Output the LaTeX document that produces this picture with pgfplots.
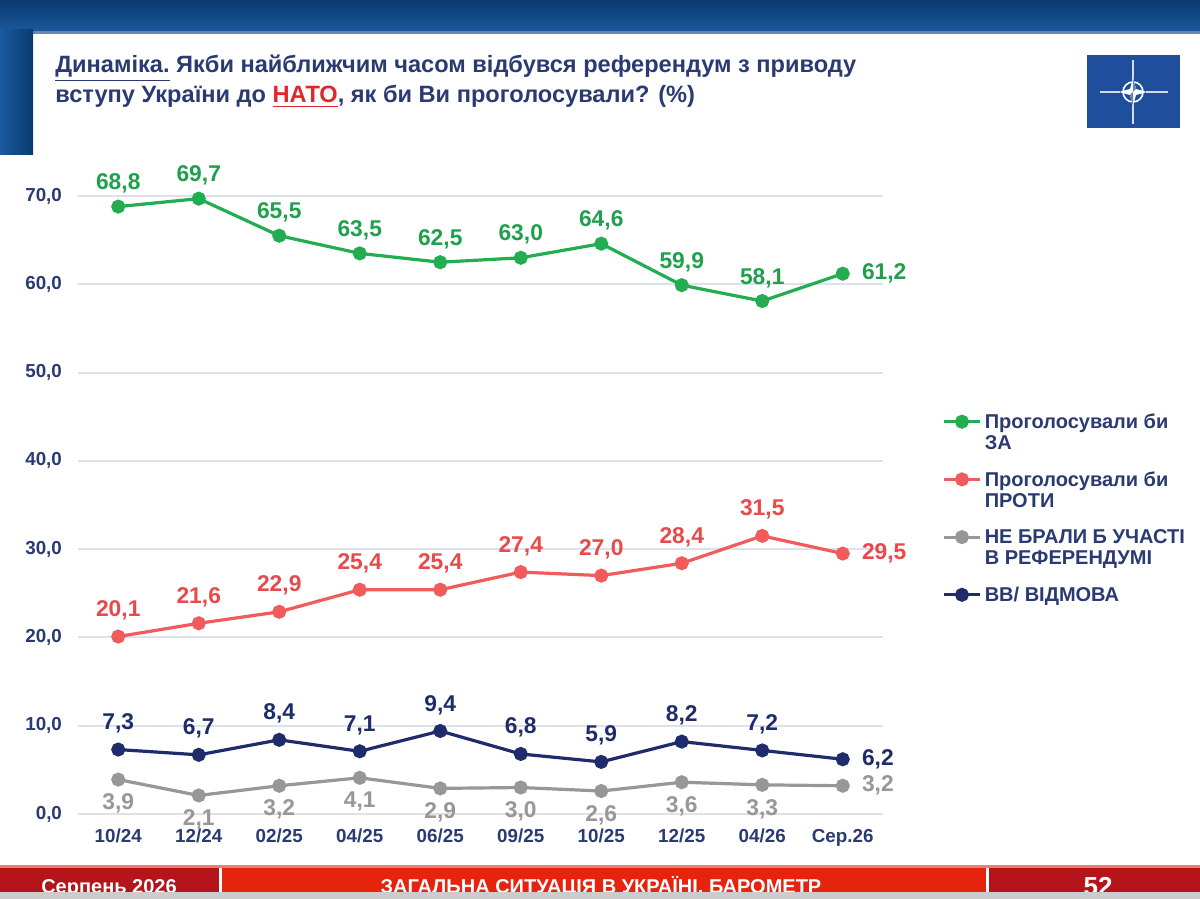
\documentclass[border=0pt]{standalone}
\usepackage{fontspec}
\setmainfont{Liberation Sans}
\usepackage{pgfplots}
\pgfplotsset{compat=1.18}
\definecolor{zagreen}{HTML}{22AE50}
\definecolor{zagreenT}{HTML}{1FA04C}
\definecolor{zared}{HTML}{F25B5B}
\definecolor{zaredT}{HTML}{E9494B}
\definecolor{zagray}{HTML}{979797}
\definecolor{zanavy}{HTML}{1E2C6C}
\definecolor{txtnavy}{HTML}{2A3A72}
\definecolor{topblue}{HTML}{0A3A6F}
\definecolor{topblue2}{HTML}{1A5A9E}
\definecolor{natoblue}{HTML}{1F4F9C}
\definecolor{footred}{HTML}{E6240E}
\definecolor{footdark}{HTML}{B4141A}
\definecolor{titlered}{HTML}{E3262A}
\definecolor{gridc}{HTML}{DEE0EC}
\pgfplotsset{/pgf/number format/assume math mode=true}
\begin{document}
\begin{tikzpicture}
\useasboundingbox (0,0) rectangle (600pt,449.5pt);
\fill[white] (0,0) rectangle (600pt,449.5pt);
\begin{scope}[x=0.5pt,y=-0.5pt,shift={(0pt,449.5pt)}]
  % top bar
  \shade[top color=topblue, bottom color=topblue2] (0,0) rectangle (1200,32);
  \fill[topblue2!70!white] (33,31) rectangle (1200,34);
  % left strip
  \shade[left color=topblue2, right color=topblue] (0,30) rectangle (33,155);
  % title
  \node[anchor=base west, inner sep=0pt, text=txtnavy, font=\bfseries\fontsize{11.8}{13}\selectfont] at (55,73)
    {\underline{Динаміка.} Якби найближчим часом відбувся референдум з приводу};
  \node[anchor=base west, inner sep=0pt, text=txtnavy, font=\bfseries\fontsize{11.8}{13}\selectfont] at (55,103)
    {вступу України до \textcolor{titlered}{\underline{НАТО}}, як би Ви проголосували? (\%)};
  % NATO logo
  \fill[natoblue] (1087,55) rectangle (1180,128);
  \draw[white!80!natoblue, line width=1pt] (1100,92) -- (1120,92) (1146,92) -- (1168,92);
  \draw[white!80!natoblue, line width=0.6pt] (1133,60) -- (1133,80) (1133,104) -- (1133,124);
  \draw[white, line width=0.8pt] (1133,92) circle (10);
  \fill[white] (1133,78) -- (1136,89) -- (1147,92) -- (1136,95) -- (1133,106) -- (1130,95) -- (1119,92) -- (1130,89) -- cycle;
  \fill[natoblue!70!white] (1133,92) -- (1136,89) -- (1133,78) -- cycle;
  \fill[natoblue!70!white] (1133,92) -- (1130,95) -- (1133,106) -- cycle;
  % footer
  \fill[footred!60!white] (0,865) rectangle (1200,868);
  \fill[footdark] (0,868) rectangle (219,892);
  \fill[footred] (222,868) rectangle (986,892);
  \fill[footdark] (989,868) rectangle (1200,892);
  \fill[white] (219,868) rectangle (222,892);
  \fill[white] (986,868) rectangle (989,892);
  \node[anchor=base, inner sep=0pt, text=white, font=\bfseries\fontsize{10}{12}\selectfont] at (109,894) {Серпень 2026};
  \node[anchor=base, inner sep=0pt, text=white, font=\bfseries\fontsize{10}{12}\selectfont] at (601,894) {ЗАГАЛЬНА СИТУАЦІЯ В УКРАЇНІ. БАРОМЕТР};
  \node[anchor=base, inner sep=0pt, text=white, font=\bfseries\fontsize{13}{14}\selectfont] at (1098,896) {52};
  \fill[black!20] (0,892) rectangle (1200,899);
\end{scope}
\begin{axis}[
  at={(39pt,42.5pt)}, anchor=south west,
  scale only axis, width=402.5pt, height=309pt,
  xmin=-0.5, xmax=9.5, ymin=0, ymax=70,
  clip=false,
  axis line style={draw=none},
  major tick length=0pt,
  ymajorgrids, grid style={gridc, line width=1pt},
  ytick={0,10,...,70},
  xtick={0,...,9},
  xticklabels={10/24,12/24,02/25,04/25,06/25,09/25,10/25,12/25,04/26,Сер.26},
  y tick label style={/pgf/number format/.cd, fixed, fixed zerofill, precision=1, use comma, /tikz/.cd, font=\bfseries\fontsize{9.4}{11}\selectfont, text=txtnavy, xshift=-4.5pt},
  x tick label style={font=\bfseries\fontsize{9.4}{11}\selectfont, text=txtnavy, yshift=-4pt},
  every axis plot/.append style={line width=1.6pt, mark=*, mark size=2.7pt},
  nodes near coords={\pgfmathprintnumber[fixed,fixed zerofill,precision=1,use comma]{\pgfplotspointmeta}},
  every node near coord/.append style={font=\bfseries\fontsize{11.4}{13}\selectfont},
  legend style={at={(1.073,0.655)}, anchor=north west, draw=none, fill=none,
    font=\bfseries\fontsize{10}{10.5}\selectfont, text=txtnavy,
    cells={anchor=base west}, row sep=16pt, inner sep=0pt, nodes={inner xsep=1.5pt}},
  legend image code/.code={\draw[mark repeat=2,mark phase=2,#1,yshift=0.33em] plot coordinates {(0cm,0cm)(0.32cm,0cm)(0.64cm,0cm)};},
]
\addplot[color=zagreen, mark options={fill=zagreen},
  every node near coord/.append style={text=zagreenT},
  coordinate style/.condition={x<8.5}{anchor=south,yshift=2.6pt},
  coordinate style/.condition={x>8.5}{anchor=west,xshift=5.5pt}]
  coordinates {(0,68.8)(1,69.7)(2,65.5)(3,63.5)(4,62.5)(5,63.0)(6,64.6)(7,59.9)(8,58.1)(9,61.2)};
\addlegendentry{\begin{tabular}[t]{@{}l@{}}Проголосували би\\ЗА\end{tabular}}
\addplot[color=zared, mark options={fill=zared},
  every node near coord/.append style={text=zaredT},
  coordinate style/.condition={x<8.5}{anchor=south,yshift=4.1pt},
  coordinate style/.condition={x>8.5}{anchor=west,xshift=5.5pt}]
  coordinates {(0,20.1)(1,21.6)(2,22.9)(3,25.4)(4,25.4)(5,27.4)(6,27.0)(7,28.4)(8,31.5)(9,29.5)};
\addlegendentry{\begin{tabular}[t]{@{}l@{}}Проголосували би\\ПРОТИ\end{tabular}}
\addplot[color=zagray, mark options={fill=zagray},
  every node near coord/.append style={text=zagray},
  coordinate style/.condition={x<8.5}{anchor=north,yshift=-3pt},
  coordinate style/.condition={x>8.5}{anchor=west,xshift=5.5pt}]
  coordinates {(0,3.9)(1,2.1)(2,3.2)(3,4.1)(4,2.9)(5,3.0)(6,2.6)(7,3.6)(8,3.3)(9,3.2)};
\addlegendentry{\begin{tabular}[t]{@{}l@{}}НЕ БРАЛИ Б УЧАСТІ\\В РЕФЕРЕНДУМІ\end{tabular}}
\addplot[color=zanavy, mark options={fill=zanavy},
  every node near coord/.append style={text=zanavy},
  coordinate style/.condition={x<8.5}{anchor=south,yshift=4.1pt},
  coordinate style/.condition={x>8.5}{anchor=west,xshift=5.5pt}]
  coordinates {(0,7.3)(1,6.7)(2,8.4)(3,7.1)(4,9.4)(5,6.8)(6,5.9)(7,8.2)(8,7.2)(9,6.2)};
\addlegendentry{\begin{tabular}[t]{@{}l@{}}ВВ/ ВІДМОВА\end{tabular}}
\end{axis}
\end{tikzpicture}
\end{document}
